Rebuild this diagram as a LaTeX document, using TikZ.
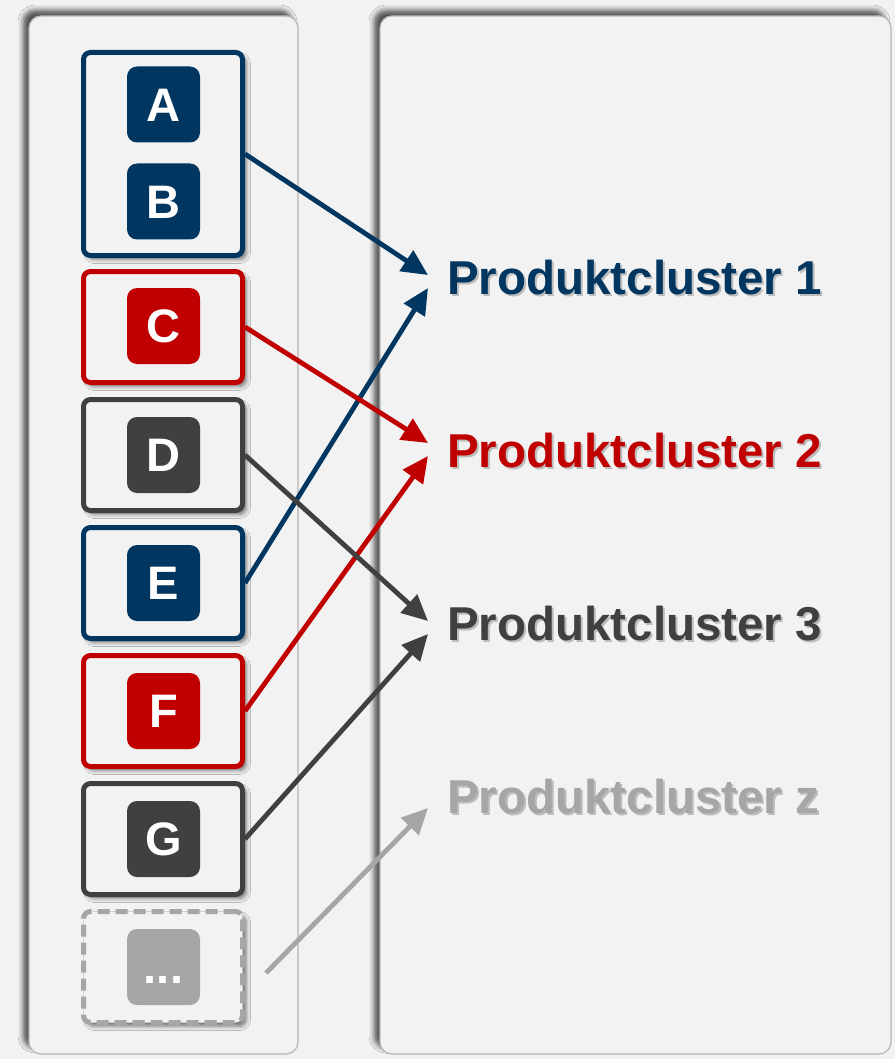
\documentclass[tikz,border=0pt]{standalone}
\usepackage{fontspec}
\setmainfont{Liberation Sans}
\usetikzlibrary{arrows.meta,shadows.blur,calc}

\definecolor{navy}{HTML}{003660}
\definecolor{crimson}{HTML}{C00000}
\definecolor{charcoal}{HTML}{404040}
\definecolor{mist}{HTML}{A6A6A6}
\definecolor{paper}{HTML}{F2F2F2}
\definecolor{rim}{HTML}{B5B5B5}

\begin{document}
\begin{tikzpicture}[x=1pt,y=-1pt,
  panel/.style={fill=paper, draw=rim, line width=1.2pt, rounded corners=12pt,
    blur shadow={shadow xshift=-6pt, shadow yshift=6pt, shadow blur radius=5pt, shadow opacity=65}},
  group/.style={draw=#1, line width=5pt, fill=paper, rounded corners=7pt,
    minimum width=159pt, minimum height=111pt, inner sep=0pt,
    blur shadow={shadow xshift=4pt, shadow yshift=-4pt, shadow blur radius=4pt, shadow opacity=50}},
  tile/.style={fill=#1, rounded corners=10pt, minimum width=73pt, minimum height=76pt,
    inner sep=0pt, text=white, font=\fontsize{47}{47}\selectfont\bfseries,
    text height=33.6pt, text depth=0pt},
  cluster/.style={anchor=west, inner sep=0pt, text=#1,
    font=\fontsize{47.5}{47.5}\selectfont\bfseries, text height=34pt, text depth=0pt},
  cshadow/.style={cluster=black, opacity=0.22},
  conn/.style={draw=#1, line width=4.8pt, -{Triangle[length=26pt,width=24pt]}}
]
\useasboundingbox (0,0) rectangle (895,1059);
\fill[paper] (0,0) rectangle (895,1059);

% two panels
\draw[panel] (29,16) rectangle (298,1054);
\draw[panel] (380,16) rectangle (891,1054);

% group boxes
\node[group=navy, minimum height=203pt] (ab) at (163,154) {};
\node[group=crimson]  (c) at (163,327) {};
\node[group=charcoal] (d) at (163,455) {};
\node[group=navy]     (e) at (163,583) {};
\node[group=crimson]  (f) at (163,711) {};
\node[group=charcoal] (g) at (163,839) {};
\node[group=mist, dash pattern=on 12pt off 6pt] (more) at (163,967) {};

% letter tiles
\node[tile=navy]     (ta) at (163.5,104.5) {A};
\node[tile=navy]     (tb) at (163.5,201.5) {B};
\node[tile=crimson]  (tc) at (163.5,326) {C};
\node[tile=charcoal] (td) at (163.5,455) {D};
\node[tile=navy]     (te) at (163.5,583) {E};
\node[tile=crimson]  (tf) at (163.5,711) {F};
\node[tile=charcoal] (tg) at (163.5,839) {G};
\node[tile=mist]     (tm) at (163.5,967) {...};

% cluster labels with soft drop shadow
\node[cshadow] (s1) at (449,279) {Produktcluster 1};
\node[cshadow] (s2) at (449,452) {Produktcluster 2};
\node[cshadow] (s3) at (449,625) {Produktcluster 3};
\node[cshadow] (sz) at (449,798) {Produktcluster z};
\node[cluster=navy]     (p1) at (447,277) {Produktcluster 1};
\node[cluster=crimson]  (p2) at (447,450) {Produktcluster 2};
\node[cluster=charcoal] (p3) at (447,623) {Produktcluster 3};
\node[cluster=mist]     (pz) at (447,796) {Produktcluster z};

% assignments
\coordinate (mstart) at (266,973);
\draw[conn=navy]     (ab.east) -- ($(p1.west)+(-19,-2)$);
\draw[conn=navy]     (e.east)  -- ($(p1.west)+(-19,11)$);
\draw[conn=crimson]  (c.east)  -- ($(p2.west)+(-19,-7)$);
\draw[conn=crimson]  (f.east)  -- ($(p2.west)+(-19,6)$);
\draw[conn=charcoal] (d.east)  -- ($(p3.west)+(-19,-2)$);
\draw[conn=charcoal] (g.east)  -- ($(p3.west)+(-19,11)$);
\draw[conn=mist]     (mstart)  -- ($(pz.west)+(-19,12)$);
\end{tikzpicture}
\end{document}
